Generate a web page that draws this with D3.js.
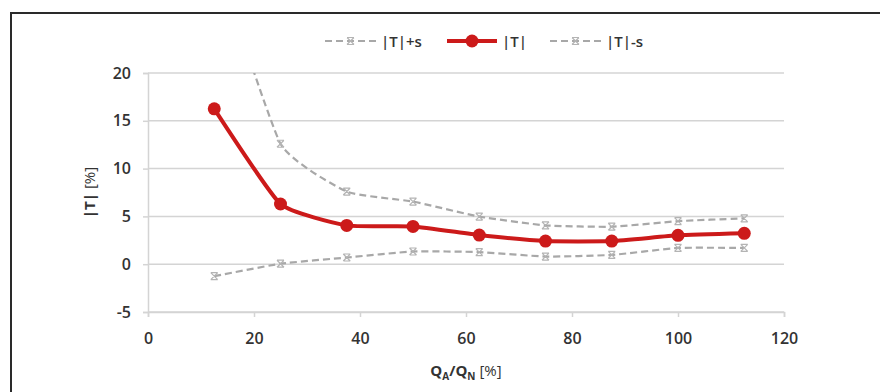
<!DOCTYPE html>
<html>
<head>
<meta charset="utf-8">
<script src="https://cdn.jsdelivr.net/npm/d3@7"></script>
<style>
  body { margin: 0; background: #fff; }
  svg { display: block; font-family: "Open Sans", Lato, sans-serif; }
</style>
</head>
<body>
<div id="chart"></div>
<script>
// data
const xVals = [12.5, 25, 37.5, 50, 62.5, 75, 87.5, 100, 112.5];
const tAbs = [16.25, 6.3, 4.06, 3.95, 3.05, 2.42, 2.42, 3.02, 3.23];
const tPlus = [32.5, 12.6, 7.6, 6.55, 4.98, 4.06, 3.92, 4.5, 4.8];
const tMinus = [-1.25, 0.05, 0.7, 1.33, 1.27, 0.8, 0.97, 1.7, 1.7];
const xTicks = [0, 20, 40, 60, 80, 100, 120];
const yTicks = [-5, 0, 5, 10, 15, 20];

const width = 880;
const height = 392;
const plot = { left: 148, right: 784, top: 73, bottom: 312 };

const svg = d3.select("#chart")
  .append("svg")
  .attr("width", width)
  .attr("height", height);

// outer frame
svg.append("rect")
  .attr("x", 11).attr("y", 13)
  .attr("width", 900).attr("height", 420)
  .attr("fill", "none")
  .attr("stroke", "#2a2a2a")
  .attr("stroke-width", 2);

const x = d3.scaleLinear().domain([0, 120]).range([plot.left, plot.right]);
const y = d3.scaleLinear().domain([-5, 20]).range([plot.bottom, plot.top]);

// gridlines
svg.append("g")
  .selectAll("line")
  .data(yTicks)
  .enter()
  .append("line")
  .attr("x1", plot.left).attr("x2", plot.right)
  .attr("y1", d => y(d)).attr("y2", d => y(d))
  .attr("stroke", "#d4d4d4")
  .attr("stroke-width", 1.5);

// y axis
const yAxis = svg.append("g")
  .attr("transform", `translate(${plot.left},0)`)
  .call(d3.axisLeft(y).tickValues(yTicks).tickFormat(d => String(d)).tickSize(5).tickPadding(12));

// x axis
const xAxis = svg.append("g")
  .attr("transform", `translate(0,${plot.bottom})`)
  .call(d3.axisBottom(x).tickValues(xTicks).tickFormat(d => String(d)).tickSize(5).tickPadding(16));

[yAxis, xAxis].forEach(a => {
  a.select(".domain").attr("stroke", "#d4d4d4").attr("stroke-width", 1.5);
  a.selectAll(".tick line").attr("stroke", "#d4d4d4").attr("stroke-width", 1.5);
  a.selectAll(".tick text")
    .attr("fill", "#333")
    .style("font-size", "16px")
    .style("font-weight", "600")
    .style("font-family", "'Open Sans', sans-serif");
});

// axis titles
const yTitle = svg.append("text")
  .attr("transform", `translate(89,${(plot.top + plot.bottom) / 2}) rotate(-90)`)
  .attr("text-anchor", "middle")
  .attr("dominant-baseline", "central")
  .attr("fill", "#333")
  .style("font-size", "15px");
yTitle.append("tspan").attr("font-weight", "bold").text("|T|");
yTitle.append("tspan").text(" [%]");

const xTitle = svg.append("text")
  .attr("x", (plot.left + plot.right) / 2)
  .attr("y", 376)
  .attr("text-anchor", "middle")
  .attr("fill", "#333")
  .style("font-size", "15px");
xTitle.append("tspan").attr("font-weight", "bold").text("Q");
xTitle.append("tspan").attr("font-weight", "bold").attr("font-size", "10px").attr("dy", 4).text("A");
xTitle.append("tspan").attr("font-weight", "bold").attr("dy", -4).text("/Q");
xTitle.append("tspan").attr("font-weight", "bold").attr("font-size", "10px").attr("dy", 4).text("N");
xTitle.append("tspan").attr("dy", -4).text(" [%]");

// clip to plot area
svg.append("clipPath").attr("id", "plotClip")
  .append("rect")
  .attr("x", plot.left - 10).attr("y", plot.top)
  .attr("width", plot.right - plot.left + 20)
  .attr("height", plot.bottom - plot.top);

const line = d3.line()
  .x(d => x(d[0]))
  .y(d => y(d[1]))
  .curve(d3.curveCardinal.tension(0.55));

const grey = "#a8a8a8";
const red = "#cc1a1a";

function xMark(g, cx, cy, s) {
  g.append("path")
    .attr("d", `M${cx - s},${cy - s}L${cx + s},${cy + s}M${cx - s},${cy + s}L${cx + s},${cy - s}M${cx - s},${cy - s}L${cx + s},${cy - s}M${cx - s},${cy + s}L${cx + s},${cy + s}`)
    .attr("stroke", "#b4b4b4")
    .attr("stroke-width", 1.2)
    .attr("fill", "none");
}

const series = svg.append("g").attr("clip-path", "url(#plotClip)");

[tPlus, tMinus].forEach(vals => {
  const pts = xVals.map((d, i) => [d, vals[i]]);
  series.append("path")
    .datum(pts)
    .attr("d", line)
    .attr("fill", "none")
    .attr("stroke", grey)
    .attr("stroke-width", 2.2)
    .attr("stroke-dasharray", "7,4");
  pts.forEach(p => {
    if (p[1] <= 20) xMark(series, x(p[0]), y(p[1]), 3.5);
  });
});

const redPts = xVals.map((d, i) => [d, tAbs[i]]);
series.append("path")
  .datum(redPts)
  .attr("d", line)
  .attr("fill", "none")
  .attr("stroke", red)
  .attr("stroke-width", 4);

series.selectAll("circle.pt")
  .data(redPts)
  .enter()
  .append("circle")
  .attr("class", "pt")
  .attr("cx", d => x(d[0]))
  .attr("cy", d => y(d[1]))
  .attr("r", 6.5)
  .attr("fill", red);

// legend
const legend = svg.append("g").attr("transform", "translate(0,41)");
const legendItems = [
  { name: "|T|+s", x0: 325, x1: 376, kind: "grey" },
  { name: "|T|", x0: 447, x1: 497, kind: "red" },
  { name: "|T|-s", x0: 550, x1: 601, kind: "grey" }
];
legendItems.forEach(it => {
  if (it.kind === "grey") {
    legend.append("line")
      .attr("x1", it.x0).attr("x2", it.x1)
      .attr("stroke", grey).attr("stroke-width", 2.2)
      .attr("stroke-dasharray", "7,4");
    xMark(legend, (it.x0 + it.x1) / 2, 0, 3.5);
  } else {
    legend.append("line")
      .attr("x1", it.x0).attr("x2", it.x1)
      .attr("stroke", red).attr("stroke-width", 4);
    legend.append("circle")
      .attr("cx", (it.x0 + it.x1) / 2).attr("r", 6.5)
      .attr("fill", red);
  }
  legend.append("text")
    .attr("x", it.x1 + 5)
    .attr("dominant-baseline", "central")
    .attr("fill", "#333")
    .style("font-size", "15px")
    .style("font-weight", "600")
    .text(it.name);
});
</script>
</body>
</html>
